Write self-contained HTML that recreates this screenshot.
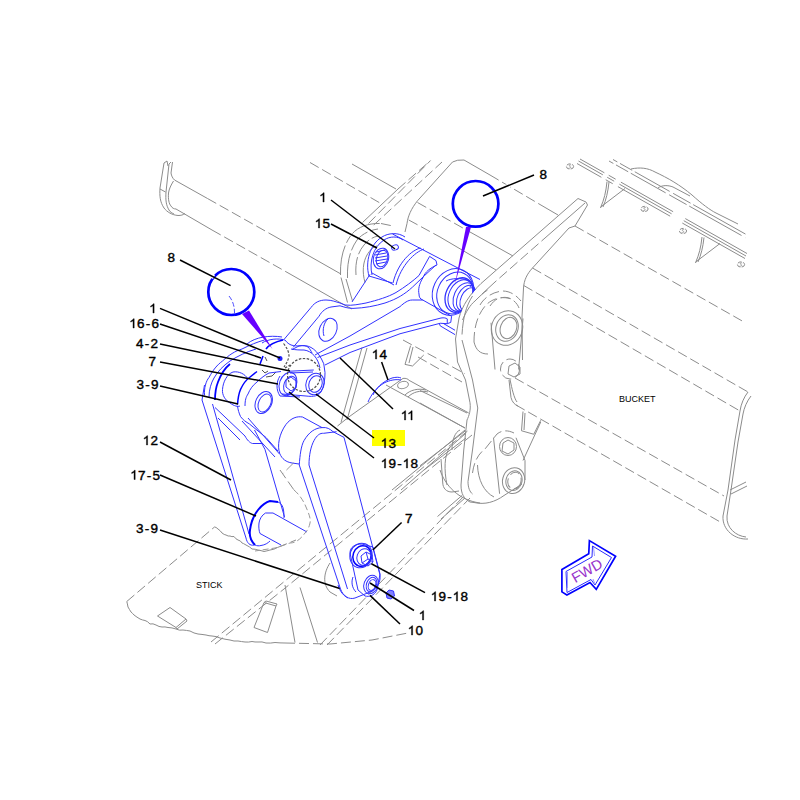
<!DOCTYPE html>
<html><head><meta charset="utf-8"><style>
html,body{margin:0;padding:0;background:#fff;width:800px;height:800px;overflow:hidden}
svg{display:block}
.g{fill:none;stroke:#8c8c8c;stroke-width:1}
.gd{fill:none;stroke:#8c8c8c;stroke-width:1;stroke-dasharray:10 4}
.b{fill:none;stroke:#3232ff;stroke-width:1}
.bt{fill:none;stroke:#0000ff;stroke-width:2}
.ld{fill:none;stroke:#000;stroke-width:1.5}
.lb{font-family:"Liberation Sans",sans-serif;font-size:13.5px;fill:#000;stroke:#000;stroke-width:0.4}
.tx{font-family:"Liberation Sans",sans-serif;font-size:9px;fill:#000}
</style></head><body>
<svg width="800" height="800" viewBox="0 0 800 800">

<!-- Zone1: stick end bar top-left -->
<path class="g" d="M164,163 L160,188 C159.5,196 160,202 164,208 C167,212 172,215 178,215.5 C181,215.5 183,215 185,213.5"/>
<path class="g" d="M169,164 L166,192 C165.5,200 166,205 169,210 C170,212 172,213 174,214"/>
<path class="g" d="M172.5,162 L171,173 C171.5,176 172.5,178 174.5,180"/>
<path class="g" d="M173.5,181 C171,185 169,189 168.5,193 C168,199 169,204 171,206 C172,208 174,209 176,209"/>
<path class="g" d="M160,189 L165.5,192"/>
<path class="g" d="M164,163 L167,161 L168,166 M169,164 L171,162"/>
<path class="g" d="M174.5,180 L207.5,198.5" /><path class="gd" d="M207.5,198.5 L275,236.5"/><path class="g" d="M275,236.5 L340,273.5"/>
<path class="g" d="M176,209 L212,230"/><path class="gd" d="M212,230 L290,274"/><path class="g" d="M290,274 L340,302.5 L352,309"/>
<path class="gd" d="M310,162.5 L380,203"/>
<path class="g" d="M352,164 L396,189"/>

<!-- Zone2: far plate / boss -->

<path class="gd" d="M368.5,223.5 L430.6,160.5"/>
<path class="g" d="M362.5,222.5 L398,189"/><path class="gd" d="M398,189 L430,161"/>
<path class="gd" d="M373.75,225 L442,162"/>
<path class="g" d="M405,232 L407,223.5 C408,216 411,209 417.5,200.75 L452.5,162 Q457,159.5 464,160 L490,175"/><path class="gd" d="M490,175 L540,204.5"/><path class="g" d="M540,204.5 L558,215"/>
<path class="gd" d="M417.5,202.5 L470,232"/><path class="g" d="M470,232 L513,256"/>
<path class="gd" d="M408.75,220 L440,237"/><path class="g" d="M440,237 L496,270"/>







<path class="g" d="M340.5,275 C340,258 344,244 352,234 C358,227 368,223 381,223.5" style="stroke-dasharray:30 3 8 3"/>
<path class="gd" d="M381,223.5 L393,226"/>
<path class="g" d="M347.5,278 C347,262 350,250 357,240 C362,234 370,230 378,229" style="stroke-dasharray:25 3"/>
<path class="g" d="M356,275 C355,262 358,252 364,245 C368,240 373,237 378,236" style="stroke-dasharray:18 3"/>
<path class="g" d="M365,282.5 C362,272 363,262 367,255 C370,250 373,247 377,246"/>
<path class="g" d="M341,277.5 L347.5,302.5 M346,279 L352.5,301"/>
<!-- Zone5: power link -->
<path class="g" d="M481,283.5 L578,198.5 L586,202 L587.5,205 L575,226 L569,228 L532.5,268 C527,274 524,280 523.5,288 L522,317 L522.5,360"/>
<path class="g" d="M585,203 L549,234.5"/><path class="gd" d="M549,234.5 L495,282"/><path class="g" d="M495,282 L482,294"/>
<path class="g" d="M481,283.5 C470,294 462,306 459,318 L455.5,339 L457.5,362"/>
<path class="g" d="M472.5,296 C466,306 463,318 462,334.5"/>
<path class="gd" d="M480,305 C484,298 492,292 502.5,291 C510,291 516,295 521,301"/><path class="gd" d="M490,306 C494,300 498,298 502.5,297.5 C507,297 510,298 513,300"/><path class="g" d="M462.5,320 C466,312 470,305 475,301 C479,297 483,293 487.5,290"/>
<path class="gd" d="M474,342 C474,328 477,315 486,305 C493,298 503,296 511,299 C515,301 518,305 519,308"/>
<path class="g" d="M474,342 C476,350 480,354 488,354"/>
<ellipse class="g" cx="507" cy="328" rx="15.5" ry="17.5" transform="rotate(20 507 328)"/>
<ellipse class="g" cx="507" cy="328" rx="11" ry="13.5" transform="rotate(20 507 328)"/>
<ellipse class="g" cx="508.5" cy="328" rx="8" ry="11" transform="rotate(20 508.5 328)"/>
<!-- bucket lines -->
<path class="gd" d="M575,226 L744,322"/>
<path class="gd" d="M532.5,268 L748,392"/>
<path class="gd" d="M523.75,285.5 L740,411"/>
<path class="gd" d="M515,378 L724,496"/>
<path class="gd" d="M516,405 L722,523"/>
<path class="g" d="M748,392 C744,397 741,404 740,411 L735,440 L728,490 L723,516 C722,530 735,540 748,539"/>
<path class="g" d="M751,396 C747,401 744,408 743,414 L738,442 L731,490 L727,516 C726,528 736,536 746,537"/>
<path class="g" d="M730,490 L746,482 M731,494 L747,486"/>
<!-- cutting edge top-right -->
<path class="g" d="M578.5,161 L746,256" style="stroke-dasharray:28 5 8 6 60 14 80"/>
<path class="g" d="M580,159 L747,253.5" style="stroke-dasharray:28 5 8 6 60 14 80"/>
<path class="g" d="M577,163.5 L745,258.5" style="stroke-dasharray:28 5 8 6 60 14 80"/>
<path class="g" d="M609,161 L746,238" style="stroke-dasharray:5 3 14 3 40 4 20 3 60"/>
<path class="g" d="M613,159.5 L748,235.5" style="stroke-dasharray:5 3 14 3 40 4 20 3 60"/>
<path class="g" d="M631,169 C640,167 648,168 655,172 C668,178 680,185 692,195 C702,204 710,210 716,213 L738,224"/>
<path class="g" d="M658,188 C662,185 668,185 673,187 L690,196"/>
<path class="g" d="M607,181.6 C606,192 604,200 600.5,207.75 L602,206 M609,182 C608,192 606,200 603,207 M602,206 L625,188.5"/>
<path class="g" d="M702,237 C701,247 699,255 695.5,262.75 L697,261 M704,237.5 C703,247 701,255 698,262 M697,261 L720,243.5"/>
<ellipse class="g" cx="570.0" cy="166.5" rx="3.6" ry="2.6" style="stroke-dasharray:4 1.5"/><path class="g" d="M571.2,165.0 C569.5,164.3 568.5,166.0 570.0,166.5 C571.5,167.0 570.5,168.7 568.8,168.0" style="stroke-width:0.8"/>
<ellipse class="g" cx="644.5" cy="209.0" rx="3.6" ry="2.6" style="stroke-dasharray:4 1.5"/><path class="g" d="M645.7,207.5 C644.0,206.8 643.0,208.5 644.5,209.0 C646.0,209.5 645.0,211.2 643.3,210.5" style="stroke-width:0.8"/>
<ellipse class="g" cx="683.0" cy="231.0" rx="3.6" ry="2.6" style="stroke-dasharray:4 1.5"/><path class="g" d="M684.2,229.5 C682.5,228.8 681.5,230.5 683.0,231.0 C684.5,231.5 683.5,233.2 681.8,232.5" style="stroke-width:0.8"/>
<ellipse class="g" cx="741.0" cy="264.5" rx="3.6" ry="2.6" style="stroke-dasharray:4 1.5"/><path class="g" d="M742.2,263.0 C740.5,262.3 739.5,264.0 741.0,264.5 C742.5,265.0 741.5,266.7 739.8,266.0" style="stroke-width:0.8"/>
<!-- vertical link lower -->
<path class="g" d="M457.5,362 L465.5,380 L470,402.75 C471,410 469,416 467,420 L463.75,450 L461,485 C461,494 464,499 470,502 L474,502.5"/>
<path class="g" d="M462,340 L472.5,380 L477.75,408 L472.5,450 L468,481.5 C468,488 470,492 472.5,494"/>
<path class="gd" d="M472.5,473 C474,462 478,454 485,449 L497,434 C502,430 508,430 514,433"/>
<path class="g" d="M474,502.5 C485,505 495,502 504,495.5 L522,484"/>
<path class="g" d="M493.5,437.75 L499.6,493.75 M516,437.75 L525,460.5 L525,480"/>
<path class="g" d="M477.5,465 C478,480 484,492 494,497"/>
<path class="g" d="M503,443 L508,440 L514,443 L514,450 L508,454 L502,451 Z"/>
<ellipse class="g" cx="508" cy="446.5" rx="8.5" ry="9" />
<ellipse class="g" cx="513.6" cy="480.6" rx="11" ry="13" transform="rotate(15 513.6 480.6)"/>
<ellipse class="g" cx="514" cy="480.6" rx="8" ry="10" transform="rotate(15 514 480.6)"/>
<ellipse class="gd" cx="514.5" cy="480.6" rx="6.5" ry="8.5" transform="rotate(15 514.5 480.6)"/>
<path class="g" d="M441,459 L442.75,483 C443,488 446,492 452,492 L459,491"/>
<path class="g" d="M450,447 C444,455 444,470 447,485"/>
<path class="g" d="M420,390.5 L467,413 M420,403 L465,428"/>
<path class="g" d="M420,465.75 L465.5,430.75 M424,470 L466,438"/>
<path class="g" d="M437.5,516.5 L462,495.5 M441,519 L465,498"/>
<path class="g" d="M509,380 L511,397.5 C512,402 515,405 518,406"/>
<path class="g" d="M523,411.5 L521.5,430.75 L533.75,434.25 L540.75,420.25 M525,413 L524,430"/>
<path class="g" d="M540.75,422 L523,460.5"/>
<!-- vertical link upper small link + pin -->
<path class="g" d="M491,322.75 L495,369.5 M523,318.5 L518.6,369.5"/>

<path class="g" d="M509,366 L515,363 L520,367 L520,374 L514,377 L508,374 Z"/>
<ellipse class="gd" cx="510" cy="369" rx="9.5" ry="10"/>
<path class="g" d="M510,379.5 C512,389 514,398 517,402"/>

<!-- stick outline -->
<path class="gd" d="M126.75,601.5 L214.5,527"/>
<path class="g" d="M214.5,527.0 Q215.9,526.9 218.0,529.0 Q220.7,530.9 222.0,533.0 Q224.4,534.9 226.0,535.0 Q228.4,536.5 230.0,536.0 Q231.8,537.0 234.0,536.5 Q235.9,539.3 238.0,540.0 Q240.8,540.5 242.0,543.0 Q243.3,543.3 246.0,545.0 Q249.9,546.8 252.0,549.0 Q255.3,549.0 258.0,550.0 Q261.0,550.5 264.0,551.5 Q266.7,551.0 270.0,550.0 Q273.9,549.7 277.5,547.5"/>
<path class="gd" d="M277.5,547.5 L296,540"/>
<path class="g" d="M126.8,601.5 Q127.4,603.6 128.0,607.0 Q129.5,609.6 131.0,612.0 Q132.5,613.2 134.0,615.0 Q137.0,617.3 140.0,619.0 Q142.5,620.1 145.0,620.5 Q147.5,621.1 150.0,624.0 Q153.0,623.2 156.0,625.0 Q159.0,626.9 162.0,627.0 Q165.0,626.6 168.0,627.5 Q172.0,627.6 176.0,629.0 Q179.5,630.8 183.0,630.0 Q186.5,630.4 190.0,631.0 Q194.0,633.4 198.0,634.0 Q202.0,634.4 206.0,635.0 Q209.0,635.9 212.0,636.0 Q216.0,636.1 220.0,638.0 Q225.0,639.4 230.0,640.0 Q234.0,641.5 238.0,641.0 Q241.5,641.6 245.0,642.0 Q248.5,642.4 252.0,641.5 Q255.0,642.2 258.0,642.0 Q262.0,641.4 266.0,643.0 Q270.5,643.4 275.0,642.5 Q280.0,643.0 285.0,643.0"/>
<path class="gd" d="M285,643 L330,644 L372,640 L408,633"/>
<path class="g" d="M157.5,616 L170,607.5 L186,619 L176,627.5 Z M176,627.5 L177,629 L187,621 L186,619"/>
<path class="g" d="M254,627.5 L264,602.5 L276,606 L267.5,632.5 Z M264,602.5 L266,601 L277,604 L276,606"/>
<path class="gd" d="M211,642 L280,585 L420,470 L470,429"/>
<path class="gd" d="M215,644 L284,589 L424,474 L472,435"/>
<path class="gd" d="M320,645 L465,495"/>
<path class="gd" d="M327,645 L470,498"/>
<path class="g" d="M285,585 L295,642.5 M300,587.5 L317.5,642.5"/>
<path class="gd" d="M280,470 L294,490"/>
<path class="g" d="M330,563 C324,572 322,584 330,592 L337,596"/>
<path class="g" d="M440,470 C445,485 458,500 480,503"/>
<!-- mid region around pin 14 -->
<path class="g" d="M403,378.4 C406,378 408,379 409,380.3 L468.75,413"/>
<path class="g" d="M403,378.4 L348.75,417 L337.5,426"/>
<path class="g" d="M386,385 L465,428"/>
<ellipse class="g" cx="403" cy="385" rx="5.5" ry="3.5" transform="rotate(-15 403 385)"/>
<path class="g" d="M405,395 C410,390 418,388 426,390 M408,397 C413,392 420,390 428,392"/>
<path class="g" d="M362,347.5 L341,422.5 M367,348 L347,420"/>
<path class="g" d="M410.6,345.6 L405,364.4 L412.5,366 L423.75,355 M413,347 L409,363"/>
<path class="gd" d="M403,340 L465,373.75"/>
<path class="gd" d="M418,357 L462,382"/>
<path class="g" d="M392,490 L465,430 M401,490 L465,434"/>
<path class="g" d="M460,430 C455,432 452,440 452,450"/>
<!-- upper pin housing tube -->
<path class="b" d="M392.5,234 L480,279.5"/>
<path class="b" d="M369,276 C365,262 370,244 382,237 C388,233 398,232 405,237"/>
<path class="b" d="M372,275 C369,262 373,247 384,240 C390,236 398,236 403,240"/>
<ellipse class="b" cx="381" cy="258.5" rx="7.5" ry="10.5" transform="rotate(15 381 258.5)"/>
<ellipse class="b" cx="382" cy="258.5" rx="5.5" ry="8.5" transform="rotate(15 382 258.5)"/>
<path class="b" d="M376,252 L385,250 M375,255 L386,253 M375,258 L387,256 M375,261 L387,259 M376,264 L386,262"/>
<ellipse class="b" cx="395" cy="247.5" rx="3.5" ry="2.5" transform="rotate(-20 395 247.5)"/>
<path class="b" d="M369,276 L392.5,283"/>
<path class="b" d="M420.5,248 C412,250 398,262 393,283"/>
<path class="b" d="M424,249 C415,252 401,265 396,285"/>
<!-- right retainer pin -->
<clipPath id="cr"><path d="M400,220 L490,220 L486,281 C470,292 462,306 459,318 L455.5,339 L455,360 L400,360 Z"/></clipPath>
<g clip-path="url(#cr)">
<ellipse class="b" cx="453" cy="292" rx="20" ry="24" transform="rotate(25 453 292)"/>
<ellipse class="b" cx="455" cy="293" rx="17.5" ry="21.5" transform="rotate(25 455 293)"/>
<ellipse class="b" cx="459" cy="295" rx="13" ry="18" transform="rotate(25 459 295)" style="stroke-width:1.3"/>
<ellipse class="b" cx="460.5" cy="295.5" rx="11.5" ry="16.5" transform="rotate(25 460.5 295.5)"/>
<ellipse class="b" cx="464" cy="297" rx="10" ry="15" transform="rotate(25 464 297)"/>
<ellipse class="b" cx="466" cy="298" rx="8.5" ry="13.5" transform="rotate(25 466 298)"/>
<ellipse class="b" cx="468" cy="299" rx="7" ry="12" transform="rotate(25 468 299)"/>
</g>
<path class="b" d="M446,281 C452,278 460,278 468,280 L472,283 L470,287"/>
<!-- link 11 (rewrite) -->
<path class="b" d="M284.4,339 L311,307.5 C315,302 320,300 326,300 C332,300 336,302 340,303 L345,305 C352,306 360,304 366,303 C378,300 388,297 396,292.5 C405,287 413,281 419,275.5 L429.6,256.4 L436,260.6 L437,265 C430,268 425,272 423,277.6 C419,284 418,290 419,294 C419,297 420,299 422.75,300 L451.6,316.25 L450.75,322.4 L447.25,323.7 L447.25,318.9"/>
<path class="b" d="M293.2,347.3 L319,316.25 C322,311 326,308 331,307 L340,305.8 C344,307 348,308.4 353,308.4 C365,308 375,306 385,303 C397,299 405,294 412.6,287 C420,280 428,272 436,265"/>
<path class="b" d="M352,302 L370,274.4 M372,273 L394,285"/>




<path class="b" d="M315,355 L350,336 L400,306.6 C404,303 408,300 412.25,300 L422.75,300"/>
<path class="b" d="M317.5,357.5 L350,345 L400,328.5 L441,318 C444,317.5 446,318 447.25,318.9"/>
<path class="b" d="M325,365 L350,352.5 L400,333.75 L440.25,323.25 L447.25,323.7"/>
<path class="b" d="M439.4,323.7 L440.25,325.9 L455,334.6 M443,323.25 L455,330.25"/>
<ellipse class="b" cx="328" cy="329.8" rx="8.5" ry="12" transform="rotate(25 328 329.8)"/>
<path class="b" d="M324,336 C322,330 324,322 328,319"/>
<!-- link 11 left boss end -->
<path class="b" d="M285,340 C290,347 296,346 302.5,345.6 C310,345 318,350 323.75,363.75 L325,372.5 C325,380 324,386 321,392 C318,396 314,397 306,396 L282,394"/>
<path class="b" d="M291,349 C296,350 300,350 304,350 C312,351 318,358 320,368"/>
<path class="b" d="M292,349.5 L299,346 C303,345 306,346 308,347 C310,349 311,351 312,353"/>
<ellipse class="b" cx="315" cy="384" rx="9" ry="11" transform="rotate(20 315 384)"/>
<ellipse class="b" cx="315.5" cy="384" rx="6.5" ry="8.5" transform="rotate(20 315.5 384)"/>
<ellipse class="b" cx="288" cy="384" rx="8.5" ry="12" transform="rotate(20 288 384)"/>
<ellipse class="b" cx="290" cy="385" rx="6" ry="9" transform="rotate(20 290 385)"/>
<path class="b" d="M286,380 L291,377 L296,381 L296,388 L291,391 L286,387 Z"/>
<path class="b" d="M280,376 C276,382 276,390 280,396 L300,397"/>
<circle cx="280" cy="358.5" r="2.5" fill="#2020ff"/>
<circle cx="304" cy="375" r="16.5" fill="none" style="stroke:#505050;stroke-width:1.2;stroke-dasharray:2.5 1.5"/>
<path d="M283.5,343.5 C287,348 289,352 289,356 C288,361 286,364 284,367 M285,368 L290,365" fill="none" style="stroke:#505050;stroke-width:1.2;stroke-dasharray:2.5 1.5"/>
<path d="M265,357 L267,361 M262,370 L265,373 L268,371 M266,377 L272,376 L276,372" fill="none" style="stroke:#505050;stroke-width:1"/>
<path class="b" d="M288.75,371.25 L313.75,370 M290,373 L313,372"/>
<path class="b" d="M262,343 C268,339 278,338 285,340"/>
<path class="b" d="M247,344 C255,337 270,335 282,337"/>
<path class="bt" d="M266,349 C269,345 274,342 283,340" style="stroke-width:1.6"/>
<path class="bt" d="M263,356 L260,364" style="stroke-width:1.6"/>
<!-- left boss (pin housing behind) -->
<path class="b" d="M204.5,395.5 C204,388 206,381 209,377.5 C213,370 217,365 222.5,361 C229,355 235,351 242,349 C250,345 257,342 264.5,340"/>
<path class="b" d="M209,397 C209,390 211,383 214,378 C218,371 223,366 230,361 C238,356 246,352 256,349"/>
<path class="bt" d="M215,400 C215,393 216,387 218,382 C221,374 225,368 230,364" style="stroke-width:1.8"/>
<path class="b" d="M230,403 C225,400 222,395 222.5,389.5 C223,382 227,374 233,372 C239,371 245,374 248,379"/>
<path class="b" d="M230,403 C234,406 238,407 240,406"/>
<!-- link 3-9 upper plate -->
<path class="bt" d="M237.5,404.5 C238,398 239,393 240.5,389.5 C243,384 246,380 249.5,377.5 L257,371.5" style="stroke-width:1.5"/>
<path class="b" d="M245,406 C245,400 246,397 248,394 C250,389 253,385 257,382 C261,378 265,375 269,373 L281,371.5"/>
<path class="b" d="M237.5,406 C238,410 239,413 240.5,416.5 C243,420 246,422 249.5,424 L266,437.5 L278,451"/>
<path class="b" d="M242,421 L275,457"/>
<path class="b" d="M248,418 L279.5,454"/>
<ellipse class="b" cx="263.7" cy="402.5" rx="8" ry="11.5" transform="rotate(25 263.7 402.5)"/>
<ellipse class="b" cx="264.7" cy="403" rx="6" ry="9.5" transform="rotate(25 264.7 403)"/>
<path class="b" d="M215,407.5 L245,436 C247,440 250,443 252.5,443.5 L263,443.5"/>
<path class="b" d="M218,418 L240,440"/>
<!-- link 12 (back link) -->
<path class="b" d="M204.5,385 L202,400 L246,538 C247,543 250,546 254,545"/>
<path class="b" d="M212.5,404 L249,534"/>

<path class="b" d="M254.5,430 L265,449.5 L284.5,517"/>
<!-- cylinder boss 13 -->
<path class="b" d="M279.75,453.6 C277,446 279,434 286,424.4 C291,418 297,416 302.5,417 L322,427.6"/>
<path class="b" d="M279.75,453.6 C282,459 286,462 292,463 L299,464"/>
<!-- front link -->
<path class="b" d="M299.25,465 C300,455 301,446 304,440.6 C309,432 315,428 322,427.6 C327,427 330,429 333,431.7"/>
<path class="b" d="M309,465 C309,455 311,446 314,440.6 C317,435 320,433 323.6,433.3 L336.6,431.7"/>
<path class="b" d="M299.25,465 L340.5,589 C343,596 349,600 355,598 L370,592 C377,588 381,582 380,575"/>
<path class="b" d="M309,465 L347.5,589"/>
<path class="b" d="M333,431.7 L344,437.4 L380,575"/>
<!-- pin 17-5 -->
<path class="bt" d="M255,545 C251,541 249,536 250,530 C251,522 254,515 258,510 C262,505 266,502 270,501 L278,502" style="stroke-width:2"/>
<path class="b" d="M278,502 C281,503 283,506 283.5,510 C284,513 284,516 284,518"/>
<path class="b" d="M255,545 C257,546 259,546 261,545.5 C265,545 268,543 270,541"/>
<path class="b" d="M273,513 L265.5,513 C262,515 259.5,519 259,523 C258.5,527 259,531 260,533.5 L281,545"/>
<path class="b" d="M273,513 L307,532"/>
<path class="gd" d="M294,490 C300,495 304,502 306,507 C309,514 311,519 310,523 C309,528 307,531 305,533 C300,540 295,543 290,543 C284,545 279,547 275,548 L255,551" style="stroke:#999;stroke-dasharray:6 3"/>
<path class="gd" d="M293.5,463 L283,473.5" style="stroke:#999"/>
<!-- pin 14 partial -->
<path class="b" d="M373,395 C376,388 382,382 392,378 C396,377 399,377 401,378"/>
<path class="b" d="M368,402 C371,395 376,388 384,383 C390,380 396,379 401,380"/>
<!-- lower bolt assembly -->
<path class="b" d="M350,553 C350,547 355,544 362,544 L373,547 L380,574 L377,590 C374,596 369,597 365,596 L358,590 Z"/>
<ellipse class="b" cx="361" cy="555.5" rx="11" ry="12.5" transform="rotate(20 361 555.5)"/>
<ellipse class="bt" cx="362" cy="556" rx="9" ry="10.5" transform="rotate(20 362 556)" style="stroke-width:1.5"/>
<ellipse class="b" cx="364" cy="557" rx="7" ry="8.5" transform="rotate(20 364 557)"/>
<path class="b" d="M361,556 L366,552 L372,555 L373,562 L368,566 L362,563 Z M366,552 L368,559 L373,562 M368,559 L362,563"/>
<ellipse class="b" cx="371" cy="584.5" rx="7" ry="9.5" transform="rotate(20 371 584.5)"/>
<ellipse class="b" cx="371.5" cy="584.5" rx="5" ry="7.5" transform="rotate(20 371.5 584.5)"/>
<ellipse class="b" cx="372" cy="585" rx="3.5" ry="5.5" transform="rotate(20 372 585)"/>
<path d="M386,593 L389,590 L393.5,591 L394.5,596 L391,599 L387,598 Z" fill="#8080ff" stroke="#3232ff" stroke-width="1"/>
<path class="b" d="M338,585 C340,592 344,596 348,598"/>
<path class="b" d="M353,577 C351,582 352,588 356,592"/>
<!-- FWD arrow -->
<path d="M561.9,569.4 L588.75,553.75 L589.4,540.6 L615.6,556.25 L596.25,589.4 L590,582.5 L566.9,595 L561.9,591.9 Z" fill="none" stroke="#0000ff" stroke-width="1.7"/>
<path d="M566,571.5 L592,557 L592.5,546 L611.5,557.5 L595,585 L591,579.5 L567,592.5 Z" fill="none" stroke="#2a2aff" stroke-width="1"/>
<path d="M567.5,572 L567.5,588 M593.5,547 L594.5,556 M593,579 L594.5,583" fill="none" stroke="#9a9aff" stroke-width="1"/>
<text x="589.5" y="575" transform="rotate(-30 589.5 575)" text-anchor="middle" style="font-family:'Liberation Sans',sans-serif;font-size:14.5px;fill:#9933cc">FWD</text>
<!-- yellow highlight -->
<rect x="372" y="430" width="33" height="16" fill="#ffff00"/>
<!-- circles -->
<circle cx="231.3" cy="292" r="23" fill="none" stroke="#0000ff" stroke-width="2.7"/>
<circle cx="475.6" cy="203.8" r="22.8" fill="none" stroke="#0000ff" stroke-width="2.7"/>
<polygon points="242,314 249,310.5 272.5,349" fill="#6600ff"/>
<polygon points="466,227 471,227 455,284" fill="#6600ff"/>
<path d="M229,296 C233,301 235,307 234.5,316" fill="none" stroke="#5050ff" stroke-width="1" stroke-dasharray="5 2"/>
<path d="M473,228 L476,205" fill="none" stroke="#fff" stroke-width="0"/>
<line x1="203" y1="271.5" x2="214" y2="277" stroke="#fff" stroke-width="4.5"/>
<line x1="500" y1="189" x2="510" y2="185" stroke="#fff" stroke-width="4"/>
<!-- leaders -->
<g class="ld">
<line x1="180" y1="260" x2="230.6" y2="285.6"/>
<line x1="534" y1="175" x2="483" y2="196"/>
<line x1="331" y1="200" x2="395" y2="249"/>
<line x1="331" y1="224" x2="377" y2="248"/>
<line x1="160" y1="308.4" x2="280" y2="358"/>
<line x1="160" y1="324" x2="261" y2="358"/>
<line x1="160" y1="344" x2="290" y2="371"/>
<line x1="160" y1="362" x2="278" y2="384"/>
<line x1="160" y1="386" x2="238" y2="404"/>
<line x1="160" y1="442" x2="231" y2="480"/>
<line x1="160" y1="475" x2="256" y2="516"/>
<line x1="160" y1="530" x2="339.75" y2="588.5"/>
<line x1="381.6" y1="362" x2="388" y2="380"/>
<line x1="340" y1="358" x2="393" y2="409"/>
<line x1="316" y1="394" x2="374" y2="438"/>
<line x1="289" y1="392" x2="374" y2="458"/>
<line x1="401.6" y1="522.5" x2="372.8" y2="550"/>
<line x1="371.4" y1="563.75" x2="425" y2="592.6"/>
<line x1="370" y1="583" x2="414" y2="610.5"/>
<line x1="370" y1="595.4" x2="400" y2="624"/>
</g>
<!-- labels -->
<g class="lb">
<text x="175" y="261.6" text-anchor="end">8</text>
<text x="547" y="179" text-anchor="end">8</text>
<text x="327" y="202" text-anchor="end"> </text>
<text x="330" y="228" text-anchor="end"> 5</text>
<text x="157" y="313" text-anchor="end"> </text>
<text x="159" y="328" text-anchor="end"> 6<tspan dx="1.2">-</tspan><tspan dx="1.2">6</tspan></text>
<text x="158" y="347.6" text-anchor="end">4<tspan dx="1.2">-</tspan><tspan dx="1.2">2</tspan></text>
<text x="156" y="366" text-anchor="end">7</text>
<text x="158.5" y="389.4" text-anchor="end">3<tspan dx="1.2">-</tspan><tspan dx="1.2">9</tspan></text>
<text x="158" y="445" text-anchor="end"> 2</text>
<text x="160" y="479.5" text-anchor="end"> 7<tspan dx="1.2">-</tspan><tspan dx="1.2">5</tspan></text>
<text x="158" y="533" text-anchor="end">3<tspan dx="1.2">-</tspan><tspan dx="1.2">9</tspan></text>
<text x="372" y="359"> 4</text>
<text x="401" y="420">  </text>
<text x="381" y="447.7"> 3</text>
<text x="381" y="468"> 9<tspan dx="1.2">-</tspan><tspan dx="1.2"> 8</tspan></text>
<text x="405" y="522.5">7</text>
<text x="431" y="601"> 9<tspan dx="1.2">-</tspan><tspan dx="1.2"> 8</tspan></text>
<text x="419" y="620"> </text>
<text x="408" y="635"> 0</text>

<g class="one" style="fill:#000;stroke:#000;stroke-width:60.7">
<path transform="translate(319.48,202.00) scale(0.006592,-0.006592)" d="M703,0 L527,0 L527,1104 C484,1064 428,1025 359,985 C290,946 228,916 173,897 L173,1062 C272,1107 358,1161 432,1225 C506,1289 558,1349 589,1409 L703,1409 Z"/>
<path transform="translate(314.97,228.00) scale(0.006592,-0.006592)" d="M703,0 L527,0 L527,1104 C484,1064 428,1025 359,985 C290,946 228,916 173,897 L173,1062 C272,1107 358,1161 432,1225 C506,1289 558,1349 589,1409 L703,1409 Z"/>
<path transform="translate(149.48,313.00) scale(0.006592,-0.006592)" d="M703,0 L527,0 L527,1104 C484,1064 428,1025 359,985 C290,946 228,916 173,897 L173,1062 C272,1107 358,1161 432,1225 C506,1289 558,1349 589,1409 L703,1409 Z"/>
<path transform="translate(129.55,328.00) scale(0.006592,-0.006592)" d="M703,0 L527,0 L527,1104 C484,1064 428,1025 359,985 C290,946 228,916 173,897 L173,1062 C272,1107 358,1161 432,1225 C506,1289 558,1349 589,1409 L703,1409 Z"/>
<path transform="translate(142.97,445.00) scale(0.006592,-0.006592)" d="M703,0 L527,0 L527,1104 C484,1064 428,1025 359,985 C290,946 228,916 173,897 L173,1062 C272,1107 358,1161 432,1225 C506,1289 558,1349 589,1409 L703,1409 Z"/>
<path transform="translate(130.55,479.50) scale(0.006592,-0.006592)" d="M703,0 L527,0 L527,1104 C484,1064 428,1025 359,985 C290,946 228,916 173,897 L173,1062 C272,1107 358,1161 432,1225 C506,1289 558,1349 589,1409 L703,1409 Z"/>
<path transform="translate(372.00,359.00) scale(0.006592,-0.006592)" d="M703,0 L527,0 L527,1104 C484,1064 428,1025 359,985 C290,946 228,916 173,897 L173,1062 C272,1107 358,1161 432,1225 C506,1289 558,1349 589,1409 L703,1409 Z"/>
<path transform="translate(401.00,420.00) scale(0.006592,-0.006592)" d="M703,0 L527,0 L527,1104 C484,1064 428,1025 359,985 C290,946 228,916 173,897 L173,1062 C272,1107 358,1161 432,1225 C506,1289 558,1349 589,1409 L703,1409 Z"/>
<path transform="translate(407.50,420.00) scale(0.006592,-0.006592)" d="M703,0 L527,0 L527,1104 C484,1064 428,1025 359,985 C290,946 228,916 173,897 L173,1062 C272,1107 358,1161 432,1225 C506,1289 558,1349 589,1409 L703,1409 Z"/>
<path transform="translate(381.00,447.70) scale(0.006592,-0.006592)" d="M703,0 L527,0 L527,1104 C484,1064 428,1025 359,985 C290,946 228,916 173,897 L173,1062 C272,1107 358,1161 432,1225 C506,1289 558,1349 589,1409 L703,1409 Z"/>
<path transform="translate(381.00,468.00) scale(0.006592,-0.006592)" d="M703,0 L527,0 L527,1104 C484,1064 428,1025 359,985 C290,946 228,916 173,897 L173,1062 C272,1107 358,1161 432,1225 C506,1289 558,1349 589,1409 L703,1409 Z"/>
<path transform="translate(402.93,468.00) scale(0.006592,-0.006592)" d="M703,0 L527,0 L527,1104 C484,1064 428,1025 359,985 C290,946 228,916 173,897 L173,1062 C272,1107 358,1161 432,1225 C506,1289 558,1349 589,1409 L703,1409 Z"/>
<path transform="translate(431.00,601.00) scale(0.006592,-0.006592)" d="M703,0 L527,0 L527,1104 C484,1064 428,1025 359,985 C290,946 228,916 173,897 L173,1062 C272,1107 358,1161 432,1225 C506,1289 558,1349 589,1409 L703,1409 Z"/>
<path transform="translate(452.93,601.00) scale(0.006592,-0.006592)" d="M703,0 L527,0 L527,1104 C484,1064 428,1025 359,985 C290,946 228,916 173,897 L173,1062 C272,1107 358,1161 432,1225 C506,1289 558,1349 589,1409 L703,1409 Z"/>
<path transform="translate(419.00,620.00) scale(0.006592,-0.006592)" d="M703,0 L527,0 L527,1104 C484,1064 428,1025 359,985 C290,946 228,916 173,897 L173,1062 C272,1107 358,1161 432,1225 C506,1289 558,1349 589,1409 L703,1409 Z"/>
<path transform="translate(408.00,635.00) scale(0.006592,-0.006592)" d="M703,0 L527,0 L527,1104 C484,1064 428,1025 359,985 C290,946 228,916 173,897 L173,1062 C272,1107 358,1161 432,1225 C506,1289 558,1349 589,1409 L703,1409 Z"/>
</g>
</g>
<text class="tx" x="196" y="588">STICK</text>
<text class="tx" x="619" y="402.4">BUCKET</text>
</svg>
</body></html>
